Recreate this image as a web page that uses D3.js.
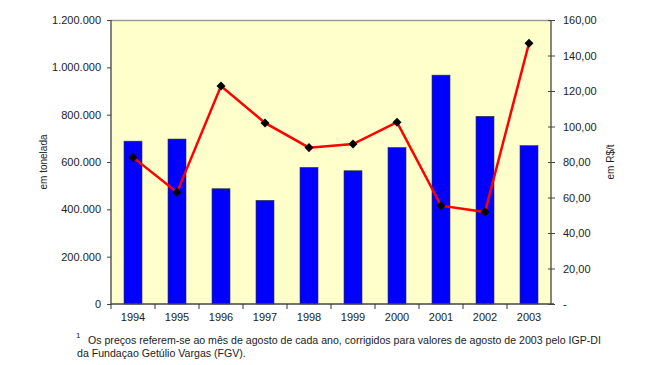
<!DOCTYPE html>
<html><head><meta charset="utf-8">
<script src="https://cdn.jsdelivr.net/npm/d3@7"></script>
<style>
body{margin:0;background:#fff;}
text{font-family:"Liberation Sans",Arial,sans-serif;fill:#222;}
</style></head>
<body>
<svg id="c" width="653" height="365"></svg>
<script>
const years = ["1994","1995","1996","1997","1998","1999","2000","2001","2002","2003"];
const tonnes = [688000, 697000, 487000, 438000, 577000, 563000, 661000, 967000, 793000, 669000];
const prices = [82.6, 62.9, 122.8, 102.0, 88.1, 90.1, 102.4, 55.4, 51.8, 146.9];
const leftTicks = [0, 200000, 400000, 600000, 800000, 1000000, 1200000];
const rightTicks = [0, 20, 40, 60, 80, 100, 120, 140, 160];
const footnote1 = "Os preços referem-se ao mês de agosto de cada ano,  corrigidos para valores de agosto de 2003 pelo IGP-DI";
const footnote2 = "da Fundaçao Getúlio Vargas (FGV).";

const svg = d3.select("#c");
const L = 111, R = 551, T = 20, B = 304;

const x = d3.scaleBand().domain(years).range([L, R]);
const yL = d3.scaleLinear().domain([0, 1200000]).range([B, T]);
const yR = d3.scaleLinear().domain([0, 160]).range([B, T]);

// plot background
svg.append("rect").attr("x", L).attr("y", T).attr("width", R - L).attr("height", B - T)
  .attr("fill", "#FFFFCC").attr("stroke", "none");
svg.append("line").attr("x1", L).attr("x2", R).attr("y1", T + 0.5).attr("y2", T + 0.5)
  .attr("stroke", "#999").attr("stroke-width", 1.5);

// bars
const bw = 18;
svg.append("g").selectAll("rect").data(years).join("rect")
  .attr("x", (d) => x(d) + x.bandwidth() / 2 - bw / 2)
  .attr("y", (d, i) => yL(tonnes[i]))
  .attr("width", bw)
  .attr("height", (d, i) => B - yL(tonnes[i]))
  .attr("fill", "#0000FF").attr("stroke", "#333").attr("stroke-width", 0.6);

const fmtL = (v) => d3.format(",")(v).replace(/,/g, ".");
const fmtR = (v) => v === 0 ? "-" : d3.format(".2f")(v).replace(".", ",");

// left axis
const gL = svg.append("g").attr("transform", `translate(${L},0)`)
  .call(d3.axisLeft(yL).tickValues(leftTicks).tickFormat(fmtL).tickSize(4).tickPadding(6));
// right axis
const gR = svg.append("g").attr("transform", `translate(${R},0)`)
  .call(d3.axisRight(yR).tickValues(rightTicks).tickFormat(fmtR).tickSize(4).tickPadding(8));
gR.selectAll(".tick line").attr("x1", -3);
// bottom axis
const gB = svg.append("g").attr("transform", `translate(0,${B})`)
  .call(d3.axisBottom(x).tickSize(0).tickPadding(9));
// tick marks between categories
gB.selectAll(".sep").data(years.slice(1)).join("line").attr("class", "sep")
  .attr("x1", (d) => x(d)).attr("x2", (d) => x(d)).attr("y1", 0).attr("y2", 5)
  .attr("stroke", "#333");
gB.append("line").attr("x1", L).attr("x2", L).attr("y1", 0).attr("y2", 5).attr("stroke", "#333");

[gL, gR, gB].forEach((g) => {
  g.select(".domain").attr("stroke", "#444").attr("stroke-width", 1.3);
  g.selectAll(".tick line").attr("stroke", "#444");
  g.selectAll("text").style("font-size", "11px").attr("fill", "#222");
});
gR.select(".domain").attr("d", `M0,${T}V${B}`);
gL.select(".domain").attr("d", `M0,${T}V${B}`);
gB.select(".domain").attr("d", `M${L},0H${R + 3}`);

// line
const line = d3.line().x((d, i) => x(years[i]) + x.bandwidth() / 2).y((d) => yR(d));
svg.append("path").datum(prices).attr("d", line)
  .attr("fill", "none").attr("stroke", "#FF0000").attr("stroke-width", 2.5);
svg.append("g").selectAll("path").data(prices).join("path")
  .attr("d", d3.symbol(d3.symbolDiamond2, 52))
  .attr("transform", (d, i) => `translate(${x(years[i]) + x.bandwidth() / 2},${yR(d)})`)
  .attr("fill", "#000");

// axis titles
svg.append("text").attr("transform", `translate(47,${(T + B) / 2}) rotate(-90)`)
  .attr("text-anchor", "middle").style("font-size", "10px").text("em tonelada");
svg.append("text").attr("transform", `translate(614,${(T + B) / 2}) rotate(-90)`)
  .attr("text-anchor", "middle").style("font-size", "10px").text("em R$/t");

// footnote
svg.append("text").attr("x", 76).attr("y", 338).style("font-size", "8px").text("1");
svg.append("text").attr("x", 88).attr("y", 344).style("font-size", "10.6px").text(footnote1);
svg.append("text").attr("x", 77).attr("y", 357).style("font-size", "10.6px").text(footnote2);
</script>
</body></html>
